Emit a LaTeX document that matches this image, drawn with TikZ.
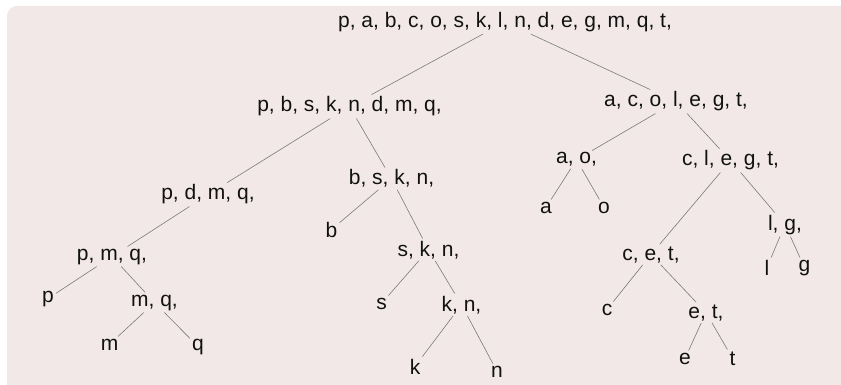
\documentclass[tikz,border=0pt]{standalone}
\usepackage{fontspec}
\setmainfont{Liberation Sans}
\definecolor{bgpink}{HTML}{F2E8E8}
\definecolor{edgegray}{HTML}{7A7A7A}
\definecolor{txt}{HTML}{111111}
\begin{document}
\begin{tikzpicture}[x=1pt,y=-1pt,
  lbl/.style={anchor=base,inner sep=2pt,text=txt,font=\fontsize{21}{25}\selectfont},
  edge/.style={draw=edgegray,line width=0.6pt}]
\useasboundingbox (0,0) rectangle (841,385);
\fill[bgpink,rounded corners=10pt] (7,6) rectangle (852,395);
\node[lbl] (r) at (505,27.5) {p, a, b, c, o, s, k, l, n, d, e, g, m, q, t,};
\node[lbl] (L) at (349.5,112) {p, b, s, k, n, d, m, q,};
\node[lbl] (R) at (676,107) {a, c, o, l, e, g, t,};
\node[lbl] (LL) at (208,200) {p, d, m, q,};
\node[lbl] (LR) at (391.5,185) {b, s, k, n,};
\node[lbl] (RL) at (576.5,164) {a, o,};
\node[lbl] (RR) at (730.5,166) {c, l, e, g, t,};
\node[lbl] (LLL) at (112,260) {p, m, q,};
\node[lbl] (LRL) at (331.5,237) {b};
\node[lbl] (LRR) at (428.5,256) {s, k, n,};
\node[lbl] (RLL) at (546,213) {a};
\node[lbl] (RLR) at (604,213) {o};
\node[lbl] (RRL) at (651,260) {c, e, t,};
\node[lbl] (RRR) at (785,230) {l, g,};
\node[lbl] (LLLL) at (48,302) {p};
\node[lbl] (LLLR) at (154.5,306) {m, q,};
\node[lbl] (LRRL) at (381.5,309) {s};
\node[lbl] (LRRR) at (461.5,311) {k, n,};
\node[lbl] (RRLL) at (607,315) {c};
\node[lbl] (RRLR) at (706,318) {e, t,};
\node[lbl] (RRRL) at (767,275) {l};
\node[lbl] (RRRR) at (804.5,271) {g};
\node[lbl] (LLLRL) at (109.5,350) {m};
\node[lbl] (LLLRR) at (198,350) {q};
\node[lbl] (LRRRL) at (415,374) {k};
\node[lbl] (LRRRR) at (497,377) {n};
\node[lbl] (RRLRL) at (685,364) {e};
\node[lbl] (RRLRR) at (732.5,365) {t};
\foreach \a/\b in {r/L,r/R,L/LL,L/LR,R/RL,R/RR,LL/LLL,LR/LRL,LR/LRR,RL/RLL,RL/RLR,RR/RRL,RR/RRR,
  LLL/LLLL,LLL/LLLR,LRR/LRRL,LRR/LRRR,RRL/RRLL,RRL/RRLR,RRR/RRRL,RRR/RRRR,
  LLLR/LLLRL,LLLR/LLLRR,LRRR/LRRRL,LRRR/LRRRR,RRLR/RRLRL,RRLR/RRLRR}
  \draw[edge] (\a) -- (\b);
\end{tikzpicture}
\end{document}
